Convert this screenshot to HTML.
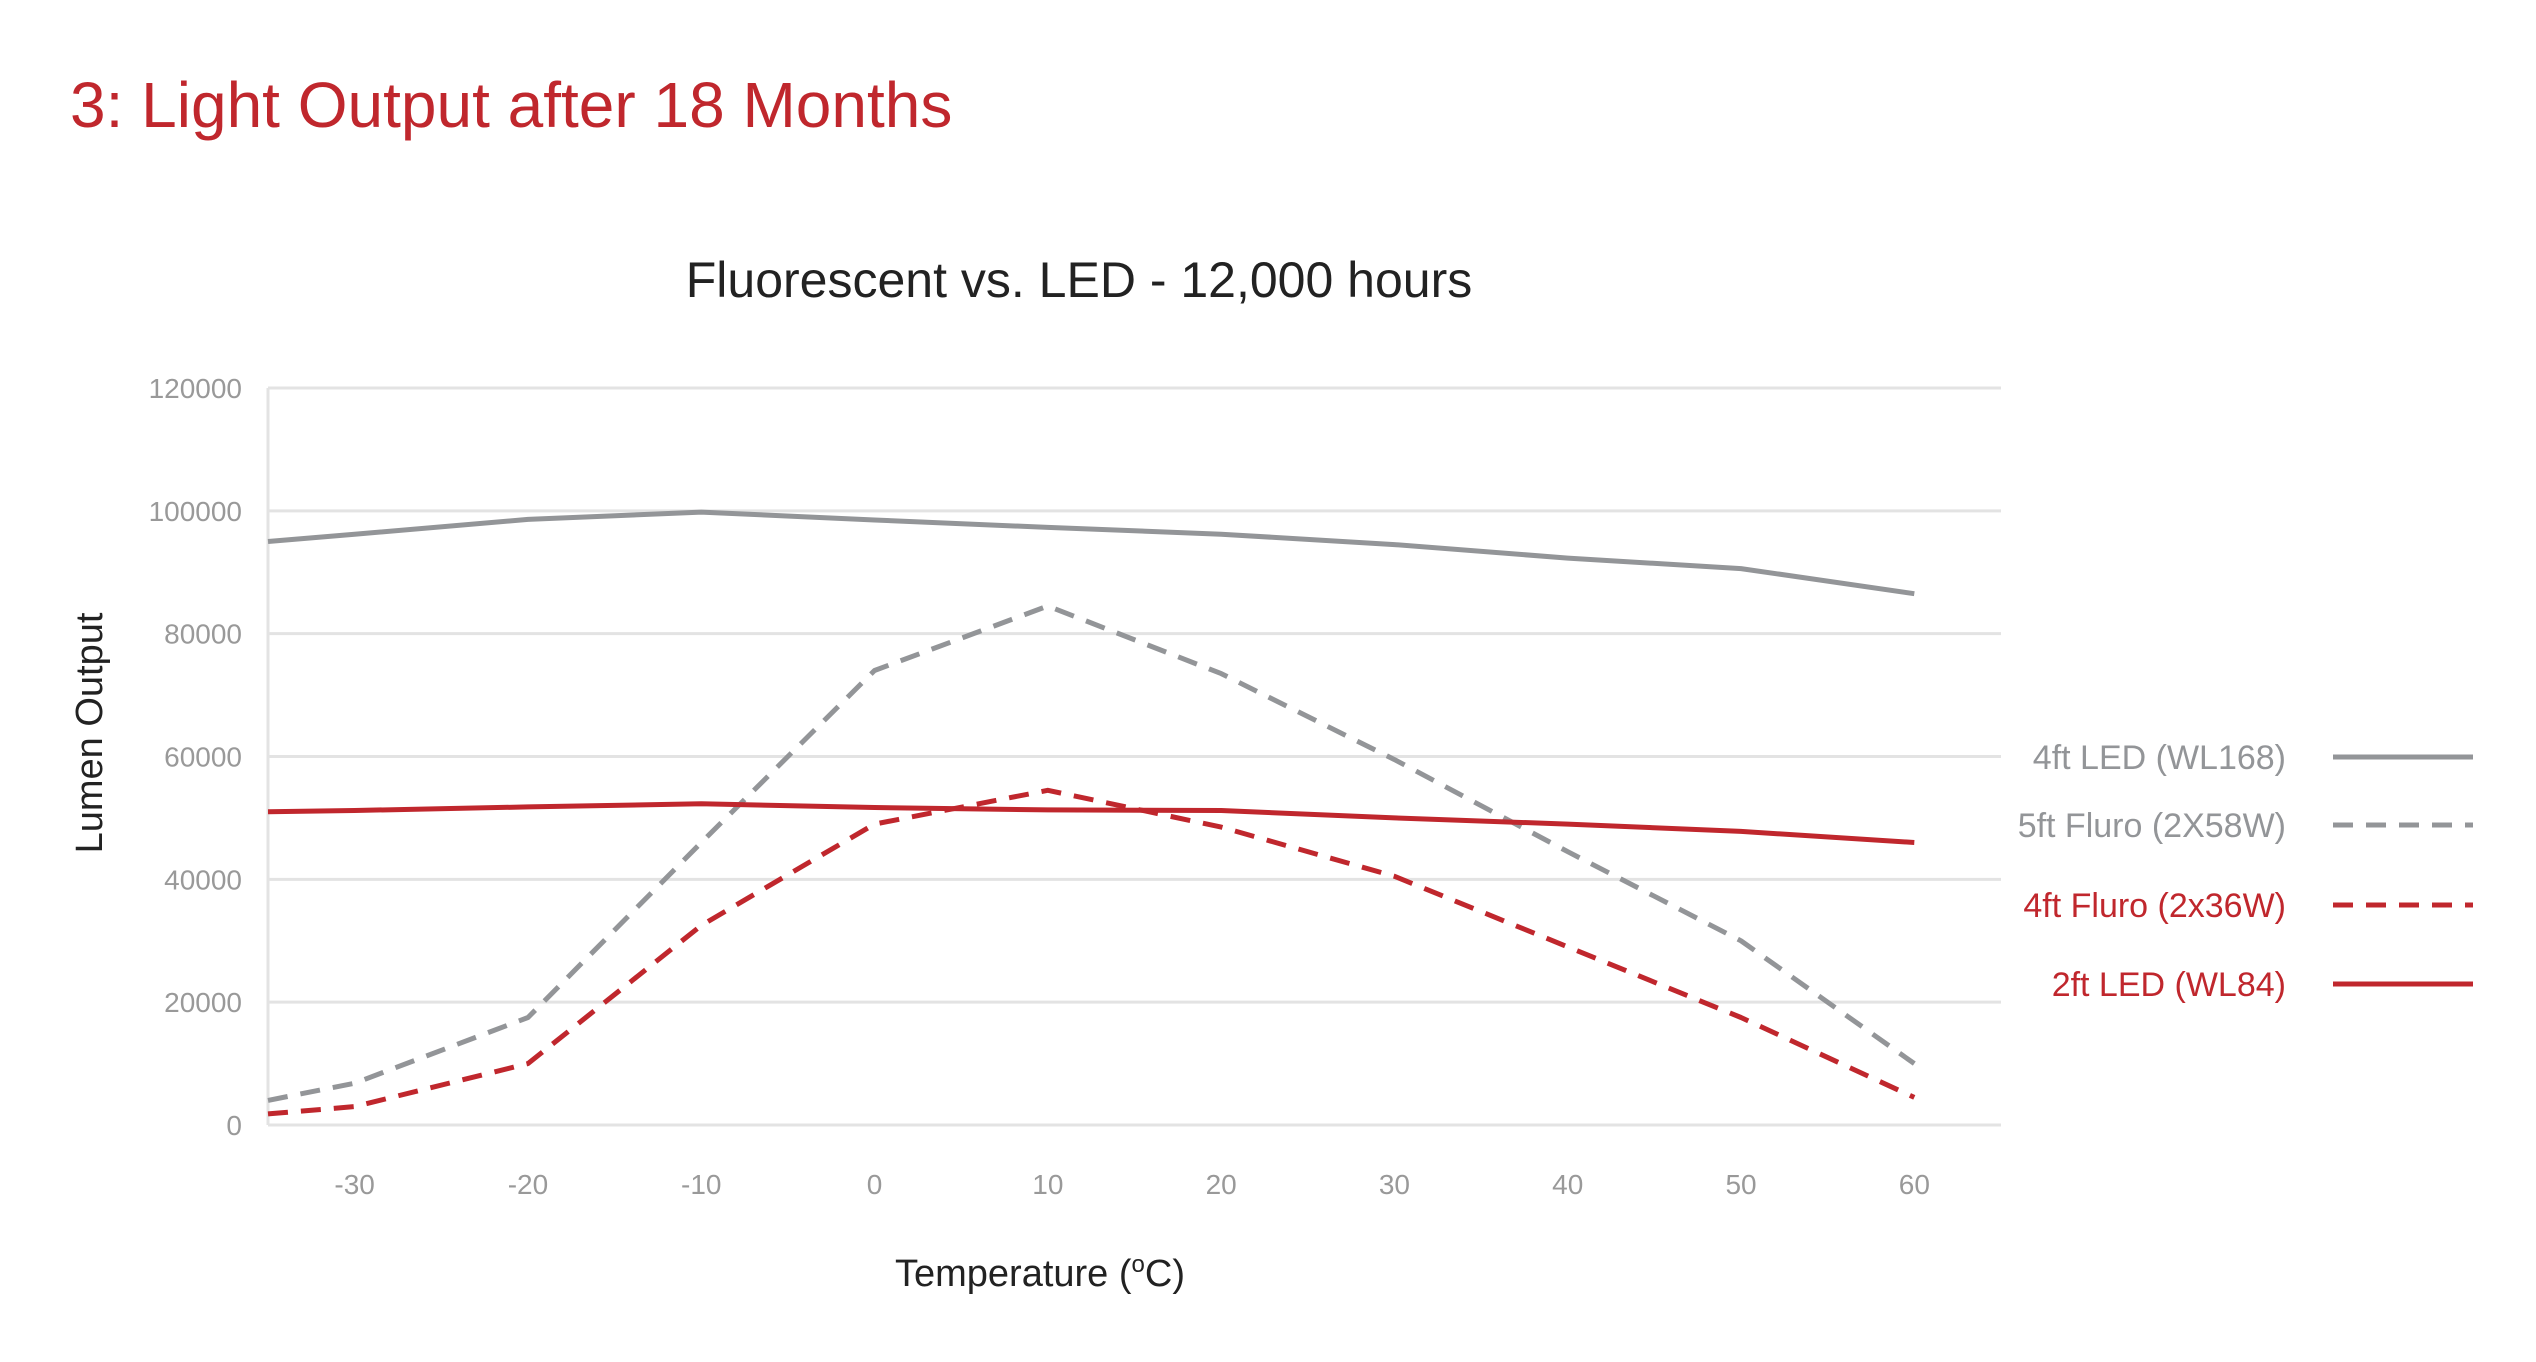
<!DOCTYPE html>
<html><head><meta charset="utf-8"><style>
html,body{margin:0;padding:0;background:#fff;}
svg{display:block;font-family:"Liberation Sans",sans-serif;}
</style></head><body>
<svg id="chart" width="2536" height="1362" viewBox="0 0 2536 1362" xmlns="http://www.w3.org/2000/svg">
<text x="70" y="127" font-size="64" fill="#c0272d">3: Light Output after 18 Months</text>
<text x="1079" y="297" font-size="50" fill="#222" text-anchor="middle">Fluorescent vs. LED - 12,000 hours</text>
<g id="grid"></g>
<g id="yticks"></g>
<g id="xticks"></g>
<g id="series"></g>
<text transform="translate(102,733) rotate(-90)" font-size="38" fill="#222" text-anchor="middle">Lumen Output</text>
<text x="1040" y="1286" font-size="38" fill="#222" text-anchor="middle">Temperature (<tspan font-size="24" dy="-14">o</tspan><tspan dy="14">C)</tspan></text>
<g id="legend"></g>
</svg>
<script>
const temps = [-35,-30,-20,-10,0,10,20,30,40,50,60];
const led4 = [95000,96200,98600,99800,98500,97300,96200,94500,92300,90600,86500];
const fluro5 = [4000,6800,17500,46000,74000,84500,73500,59500,44500,30000,10000];
const fluro4 = [1800,3000,10000,32500,49000,54500,48500,40500,29000,17500,4500];
const led2 = [51000,51200,51800,52300,51700,51300,51200,50000,49000,47800,46000];
const yTicks = [0,20000,40000,60000,80000,100000,120000];
const xTicks = [-30,-20,-10,0,10,20,30,40,50,60];
const seriesNames = ["4ft LED (WL168)","5ft Fluro (2X58W)","4ft Fluro (2x36W)","2ft LED (WL84)"];

const L=268,R=2001,T=388,B=1125,xMin=-35,xMax=65,yMax=120000;
const X=v=>L+(v-xMin)/(xMax-xMin)*(R-L);
const Y=v=>B-v/yMax*(B-T);
const NS="http://www.w3.org/2000/svg";
function mk(tag,attrs,parent){const e=document.createElementNS(NS,tag);for(const k in attrs)e.setAttribute(k,attrs[k]);parent.appendChild(e);return e;}
const grid=document.getElementById('grid'),yt=document.getElementById('yticks'),xt=document.getElementById('xticks');
yTicks.forEach(v=>{
  if(v>0){const l=mk('line',{x1:L,x2:R,y1:Y(v),y2:Y(v),stroke:'#e3e3e3','stroke-width':3},grid);
  
  }
  const t=mk('text',{x:L-26,y:Y(v)+10,'font-size':28,fill:'#999','text-anchor':'end'},yt);
  t.textContent=v;
  
  
});
const ax=mk('line',{x1:L,x2:L,y1:T,y2:B,stroke:'#e3e3e3','stroke-width':3},grid);


const bx=mk('line',{x1:L,x2:R,y1:B,y2:B,stroke:'#e3e3e3','stroke-width':3},grid);


xTicks.forEach(v=>{
  const t=mk('text',{x:X(v),y:B+69,'font-size':28,fill:'#999','text-anchor':'middle'},xt);
  t.textContent=v;
  
  
});
const styles=[
  {d:led4,c:'#939598',dash:''},
  {d:fluro5,c:'#939598',dash:'20 13'},
  {d:fluro4,c:'#c0272d',dash:'20 13'},
  {d:led2,c:'#c0272d',dash:''}
];
const sg=document.getElementById('series'),lg=document.getElementById('legend');
const legY=[757,825,905,984];
styles.forEach((s,i)=>{
  const pts=s.d.map((v,j)=>X(temps[j]).toFixed(1)+','+Y(v).toFixed(1)).join(' ');
  const p=mk('polyline',{points:pts,fill:'none',stroke:s.c,'stroke-width':5,'stroke-dasharray':s.dash,'stroke-linejoin':'round'},sg);
  
  
  const t=mk('text',{x:2286,y:legY[i]+12,'font-size':34,fill:s.c,'text-anchor':'end'},lg);
  t.textContent=seriesNames[i];
  
  
  const l=mk('line',{x1:2333,x2:2473,y1:legY[i],y2:legY[i],stroke:s.c,'stroke-width':5,'stroke-dasharray':s.dash},lg);
  
  
});
</script>
</body></html>
